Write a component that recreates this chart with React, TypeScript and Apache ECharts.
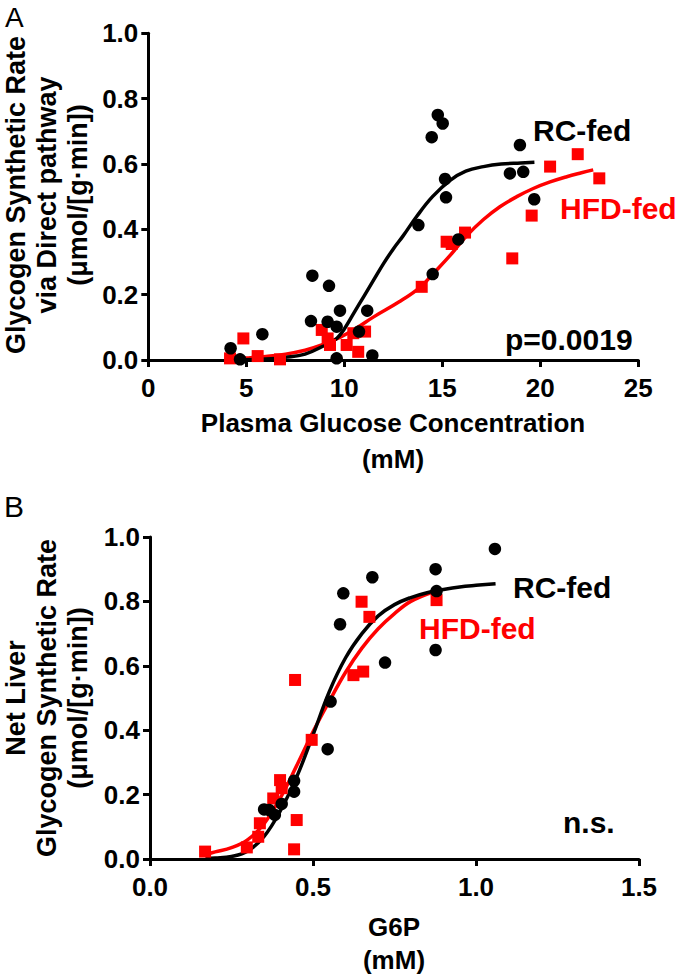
import React, { useEffect, useRef } from "react";
import * as echarts from "echarts";

// ---------- Panel A: Plasma glucose (mM) vs direct-pathway glycogen synthesis ----------
const xTicksA = [0, 5, 10, 15, 20, 25];
const rcPointsA: [number, number][] = [
  [4.2, 0.036], [4.68, 0.002], [5.82, 0.079], [8.37, 0.258], [9.22, 0.227],
  [8.3, 0.119], [9.15, 0.117], [9.78, 0.151], [9.61, 0.102], [9.61, 0.005],
  [10.75, 0.087], [11.17, 0.151], [11.43, 0.014], [13.78, 0.413], [14.77, 0.75],
  [15.02, 0.724], [14.46, 0.682], [18.96, 0.658], [15.14, 0.554], [15.19, 0.498],
  [18.45, 0.571], [19.13, 0.576], [19.69, 0.492], [15.82, 0.369], [14.51, 0.263],
];
const hfdPointsA: [number, number][] = [
  [4.17, 0.005], [4.85, 0.066], [5.58, 0.012], [6.72, 0.002], [8.85, 0.092],
  [9.15, 0.066], [9.27, 0.046], [10.12, 0.046], [10.46, 0.082], [10.71, 0.025],
  [11.06, 0.087], [20.5, 0.592], [21.91, 0.63], [23.01, 0.556], [19.56, 0.442],
  [18.57, 0.311], [16.16, 0.39], [15.22, 0.362], [15.48, 0.355], [13.95, 0.224],
];
// fitted curves
const rcCurveA: [number, number][] = [
  [4.2, 0.0], [6, 0.003], [7, 0.008], [8, 0.018], [9, 0.045], [9.6, 0.065],
  [10, 0.095], [10.5, 0.145], [11, 0.195], [11.5, 0.245], [12, 0.295],
  [12.5, 0.34], [13, 0.38], [13.7, 0.44], [14.5, 0.5], [15.4, 0.55],
  [16.2, 0.578], [17.1, 0.592], [18, 0.6], [19, 0.603], [19.7, 0.605],
];
const hfdCurveA: [number, number][] = [
  [4.2, 0.003], [5, 0.006], [6, 0.011], [7, 0.018], [8, 0.03], [8.85, 0.046],
  [9.8, 0.07], [10.6, 0.097], [11.5, 0.132], [12.8, 0.178], [13.9, 0.224],
  [14.5, 0.262], [15.4, 0.32], [16.24, 0.38], [17.1, 0.43], [17.94, 0.469],
  [18.8, 0.5], [19.64, 0.525], [20.5, 0.545], [21.35, 0.561], [22.1, 0.573],
  [22.7, 0.582],
];

// ---------- Panel B: G6P (mM) vs net liver glycogen synthesis ----------
const xTicksB = [0, 0.5, 1.0, 1.5];
const rcPointsB: [number, number][] = [
  [0.35, 0.154], [0.366, 0.152], [0.383, 0.137], [0.404, 0.171], [0.442, 0.209],
  [0.442, 0.243], [0.545, 0.341], [0.554, 0.489], [0.583, 0.729], [0.593, 0.825],
  [0.682, 0.875], [0.721, 0.61], [0.876, 0.9], [0.879, 0.832], [0.876, 0.649],
  [1.058, 0.963],
];
const hfdPointsB: [number, number][] = [
  [0.169, 0.023], [0.297, 0.036], [0.332, 0.069], [0.337, 0.111], [0.378, 0.188],
  [0.399, 0.245], [0.404, 0.22], [0.442, 0.03], [0.45, 0.121], [0.445, 0.556],
  [0.496, 0.37], [0.624, 0.571], [0.654, 0.582], [0.649, 0.799], [0.673, 0.752],
  [0.879, 0.804],
];
const rcCurveB: [number, number][] = [
  [0.17, 0.002], [0.2, 0.003], [0.25, 0.008], [0.3, 0.025], [0.35, 0.07],
  [0.4, 0.15], [0.45, 0.255], [0.5, 0.385], [0.55, 0.52], [0.6, 0.625],
  [0.65, 0.7], [0.7, 0.755], [0.75, 0.79], [0.8, 0.812], [0.85, 0.827],
  [0.9, 0.837], [0.95, 0.845], [1.0, 0.85], [1.06, 0.855],
];
const hfdCurveB: [number, number][] = [
  [0.17, 0.014], [0.2, 0.022], [0.25, 0.035], [0.3, 0.06], [0.35, 0.11],
  [0.4, 0.19], [0.45, 0.29], [0.5, 0.395], [0.55, 0.49], [0.6, 0.58],
  [0.65, 0.655], [0.7, 0.715], [0.75, 0.762], [0.8, 0.8], [0.87, 0.83],
];
const yTicks = [0, 0.2, 0.4, 0.6, 0.8, 1.0];

const FONT = '"Liberation Sans", Arial, Helvetica, sans-serif';
const RED = "#ff0000";
const BLACK = "#000000";

function valueAxis(grid: number, ticks: number[], fmt: (v: number) => string, margin: number) {
  return {
    type: "value",
    gridIndex: grid,
    min: ticks[0],
    max: ticks[ticks.length - 1],
    interval: ticks[1] - ticks[0],
    axisLine: { show: true, onZero: false, lineStyle: { color: BLACK, width: 3 } },
    axisTick: { show: true, length: 7, lineStyle: { color: BLACK, width: 3 } },
    axisLabel: {
      margin,
      color: BLACK,
      fontFamily: FONT,
      fontWeight: "bold",
      fontSize: 26,
      formatter: fmt,
    },
    splitLine: { show: false },
  };
}

function lineSeries(data: [number, number][], color: string, idx: number) {
  return {
    type: "line",
    xAxisIndex: idx,
    yAxisIndex: idx,
    data,
    smooth: 0.4,
    showSymbol: false,
    symbol: "none",
    clip: false,
    lineStyle: { color, width: 3.5 },
    z: 2,
  };
}

function scatterSeries(data: [number, number][], color: string, symbol: string, idx: number, z: number) {
  return {
    type: "scatter",
    xAxisIndex: idx,
    yAxisIndex: idx,
    data,
    symbol,
    symbolSize: symbol === "rect" ? 12 : 12.5,
    clip: false,
    itemStyle: { color, opacity: 1 },
    z,
  };
}

function txt(text: string, x: number, y: number, size: number, color = BLACK, extra: any = {}) {
  return {
    type: "text",
    x,
    y,
    rotation: extra.rotation || 0,
    style: {
      text,
      fill: color,
      fontFamily: FONT,
      fontWeight: extra.weight || "bold",
      fontSize: size,
      align: extra.align || "left",
      verticalAlign: "middle",
      lineHeight: extra.lineHeight,
    },
  };
}

export default function App() {
  const ref = useRef<HTMLDivElement>(null);
  useEffect(() => {
    if (!ref.current) return;
    const chart = echarts.init(ref.current, undefined, { renderer: "svg" });
    const fmt1 = (v: number) => v.toFixed(1);
    const fmt0 = (v: number) => String(v);
    chart.setOption({
      animation: false,
      backgroundColor: "#ffffff",
      grid: [
        { left: 148.3, top: 33.3, width: 490, height: 326.7 },
        { left: 150, top: 537, width: 489, height: 322 },
      ],
      xAxis: [
        valueAxis(0, xTicksA, fmt0, 15),
        valueAxis(1, xTicksB, fmt1, 15),
      ],
      yAxis: [
        valueAxis(0, yTicks, fmt1, 10),
        valueAxis(1, yTicks, fmt1, 10),
      ],
      series: [
        lineSeries(hfdCurveA, RED, 0),
        lineSeries(rcCurveA, BLACK, 0),
        scatterSeries(hfdPointsA, RED, "rect", 0, 3),
        scatterSeries(rcPointsA, BLACK, "circle", 0, 4),
        lineSeries(hfdCurveB, RED, 1),
        lineSeries(rcCurveB, BLACK, 1),
        scatterSeries(hfdPointsB, RED, "rect", 1, 3),
        scatterSeries(rcPointsB, BLACK, "circle", 1, 4),
      ],
      graphic: [
        txt("A", 5, 17, 28, BLACK, { weight: "normal" }),
        txt("B", 4, 506, 30, BLACK, { weight: "normal" }),
        txt("Glycogen Synthetic Rate\nvia Direct pathway\n(μmol/[g·min])", 47, 195, 27, BLACK, {
          rotation: Math.PI / 2, align: "center", lineHeight: 31,
        }),
        txt("Net Liver\nGlycogen Synthetic Rate\n(μmol/[g·min])", 47, 698, 27, BLACK, {
          rotation: Math.PI / 2, align: "center", lineHeight: 31,
        }),
        txt("Plasma Glucose Concentration\n(mM)", 393, 441, 26, BLACK, { align: "center", lineHeight: 36.5 }),
        txt("G6P\n(mM)", 394, 943, 26, BLACK, { align: "center", lineHeight: 33 }),
        txt("RC-fed", 533, 130, 30),
        txt("HFD-fed", 560, 208, 30, RED),
        txt("p=0.0019", 505, 339, 30),
        txt("RC-fed", 513, 587, 30),
        txt("HFD-fed", 419, 628, 30, RED),
        txt("n.s.", 563, 822, 30),
      ],
    });
    return () => chart.dispose();
  }, []);
  return (
    <div
      ref={ref}
      style={{ position: "fixed", left: 0, top: 0, width: 677, height: 974, background: "#fff" }}
    />
  );
}
